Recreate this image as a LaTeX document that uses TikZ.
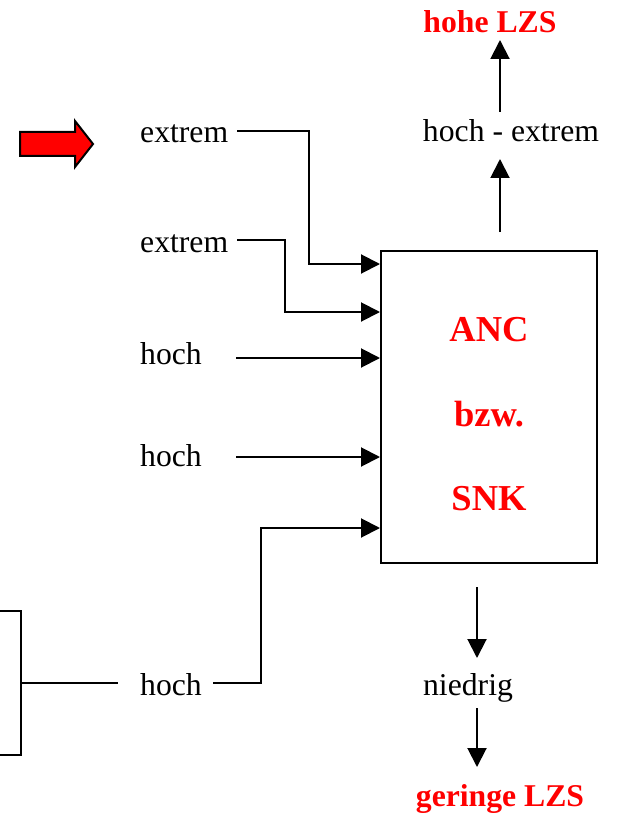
\documentclass[tikz,border=0pt]{standalone}
\usepackage{fontspec}
\setmainfont{Liberation Serif}
\usetikzlibrary{arrows.meta}
\begin{document}
\begin{tikzpicture}[x=1pt,y=-1pt,
  lbl/.style={anchor=base west,inner sep=0pt,font=\fontsize{31.7}{38}\selectfont},
  redlbl/.style={anchor=base,inner sep=0pt,text=red,font=\fontsize{31.7}{38}\selectfont\bfseries},
  boxlbl/.style={anchor=base,inner sep=0pt,text=red,font=\fontsize{36.5}{44}\selectfont\bfseries},
  conn/.style={line width=2pt},
  arr/.style={line width=2pt,-{Triangle[length=19pt,width=19pt]}},
  mainbox/.style={draw,line width=2pt,minimum width=216pt,minimum height=312pt,inner sep=0pt}
]
\useasboundingbox (0,0) rectangle (619,813);
% red block arrow
\draw[line width=2pt,fill=red,line join=miter] (20,132) -- (75,132) -- (75,121) -- (93,144) -- (75,167) -- (75,156) -- (20,156) -- cycle;
% main box
\node[mainbox] (box) at (489,407) {};
\node[boxlbl] (anc) at (489,341) {ANC};
\node[boxlbl] (bzw) at (489,426) {bzw.};
\node[boxlbl] (snk) at (489,510) {SNK};
% input labels
\node[lbl] (ex1) at (140,143) {extrem};
\node[lbl] (ex2) at (140,252) {extrem};
\node[lbl] (h1) at (140,364) {hoch};
\node[lbl] (h2) at (140,466) {hoch};
\node[lbl] (h3) at (140,695) {hoch};
% connector start points
\coordinate (s1) at (237,131);
\coordinate (s2) at (237,240);
\coordinate (s3) at (236,358);
\coordinate (s4) at (236,457);
\coordinate (s5) at (213,683);
\coordinate (e1) at (box.west |- 0,264);
\coordinate (e2) at (box.west |- 0,312);
\coordinate (e3) at (box.west |- 0,358);
\coordinate (e4) at (box.west |- 0,457);
\coordinate (e5) at (box.west |- 0,528);
\draw[arr] (s1) -- (309,131) -- (309,264) -- (e1);
\draw[arr] (s2) -- (285,240) -- (285,312) -- (e2);
\draw[arr] (s3) -- (e3);
\draw[arr] (s4) -- (e4);
\draw[arr] (s5) -- (261,683) -- (261,528) -- (e5);
% left partial box
\coordinate (lb) at (21,683);
\draw[conn] (0,611) -- (21,611) -- (21,755) -- (0,755);
\coordinate (lend) at (118,683);
\draw[conn] (lb) -- (lend);
% top outputs
\node[lbl,anchor=base] (he) at (511,142) {hoch - extrem};
\node[redlbl] (hl) at (490,33) {hohe LZS};
\coordinate (u1) at (500,232);
\coordinate (u1t) at (500,159);
\coordinate (u2) at (500,112);
\coordinate (u2t) at (500,40);
\draw[arr] (u1) -- (u1t);
\draw[arr] (u2) -- (u2t);
% bottom outputs
\node[lbl,anchor=base] (nd) at (468,695) {niedrig};
\node[redlbl] (gl) at (500,806) {geringe LZS};
\coordinate (d1) at (477,587);
\coordinate (d1t) at (477,658);
\coordinate (d2) at (477,708);
\coordinate (d2t) at (477,767);
\draw[arr] (d1) -- (d1t);
\draw[arr] (d2) -- (d2t);
\end{tikzpicture}
\end{document}
